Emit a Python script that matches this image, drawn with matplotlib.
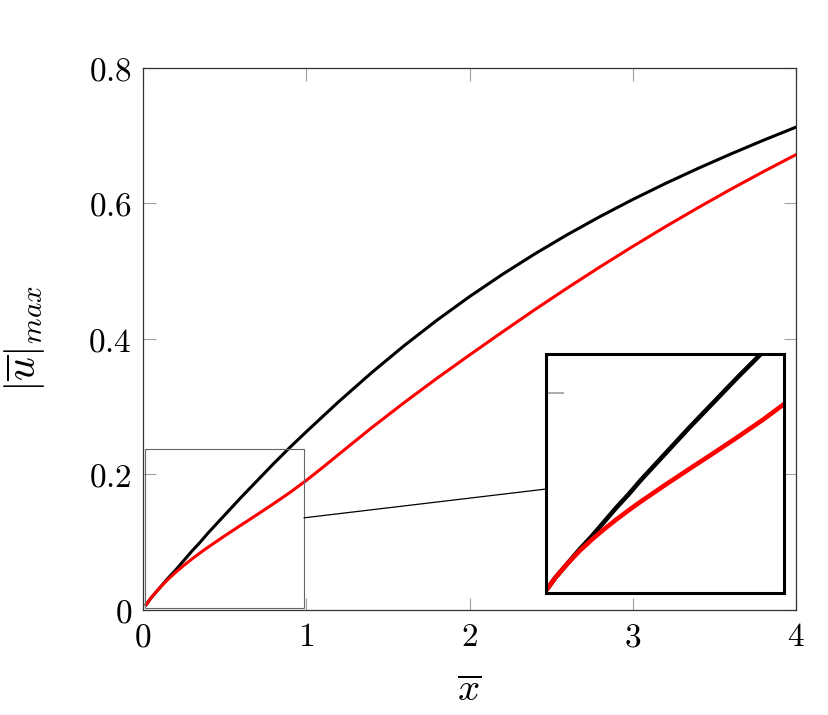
import matplotlib.pyplot as plt
from matplotlib.patches import Rectangle, ConnectionPatch

plt.rcParams['mathtext.fontset'] = 'cm'
plt.rcParams['font.family'] = 'serif'

# values
x_vals = [0.02, 0.05, 0.1, 0.15, 0.2, 0.25, 0.3, 0.35, 0.4, 0.5, 0.6, 0.7, 0.8, 0.9, 1.0,
          1.1, 1.2, 1.4, 1.6, 1.8, 2.0, 2.2, 2.4, 2.6, 2.8, 3.0, 3.2, 3.4, 3.6, 3.8, 4.0]
black_vals = [0.008, 0.018, 0.032, 0.046, 0.059, 0.073, 0.087, 0.100, 0.114, 0.140, 0.166,
              0.191, 0.216, 0.240, 0.263, 0.2854, 0.3077, 0.3502, 0.3902, 0.4276, 0.4625,
              0.4951, 0.5256, 0.5541, 0.5808, 0.6059, 0.6295, 0.6518, 0.6730, 0.6933, 0.7127]
red_vals = [0.008, 0.018, 0.032, 0.0445, 0.0556, 0.0658, 0.0753, 0.0843, 0.0929, 0.1093,
            0.1252, 0.1409, 0.1569, 0.1734, 0.1912, 0.2102, 0.2299, 0.2689, 0.3061, 0.3419,
            0.3763, 0.4101, 0.4433, 0.4754, 0.5065, 0.5366, 0.5657, 0.5938, 0.6209, 0.6470,
            0.6721]

x_ticks = [0, 1, 2, 3, 4]
x_ticklabels = ['$0$', '$1$', '$2$', '$3$', '$4$']
y_ticks = [0, 0.2, 0.4, 0.6, 0.8]
y_ticklabels = ['$0$', '$0.2$', '$0.4$', '$0.6$', '$0.8$']

# zoom window
zoom_x = (0.012, 0.986)
zoom_y = (0.003, 0.238)

fig = plt.figure(figsize=(8.29, 7.15), dpi=100)
ax = fig.add_axes([0.1725, 0.1469, 0.7877, 0.7580])

ax.plot(x_vals, black_vals, color='black', lw=2.2, zorder=3)
ax.plot(x_vals, red_vals, color='red', lw=2.2, zorder=3)

ax.set_xlim(0, 4)
ax.set_ylim(0, 0.8)
ax.set_xticks(x_ticks)
ax.set_xticklabels(x_ticklabels)
ax.set_yticks(y_ticks)
ax.set_yticklabels(y_ticklabels)
ax.tick_params(direction='in', length=9, width=0.8, color='#a0a0a0',
               top=True, right=True, labelsize=24, pad=8)
for s in ax.spines.values():
    s.set_linewidth(0.9)
    s.set_color('#333333')

ax.set_xlabel(r'$\overline{x}$', fontsize=28, labelpad=14)
ax.set_ylabel(r'$|\overline{u}|_{max}$', fontsize=30, labelpad=30)

# rectangle marking the zoomed region
ax.add_patch(Rectangle((zoom_x[0], zoom_y[0]), zoom_x[1] - zoom_x[0], zoom_y[1] - zoom_y[0],
                       fill=False, edgecolor='#666666', lw=0.8, zorder=4))

# inset
axins = fig.add_axes([0.6586, 0.1706, 0.2871, 0.3343])
axins.plot(x_vals, black_vals, color='black', lw=3.3)
axins.plot(x_vals, red_vals, color='red', lw=3.3)
axins.set_xlim(*zoom_x)
axins.set_ylim(*zoom_y)
axins.set_xticks([])
axins.set_yticks([0.2])
axins.set_yticklabels([])
axins.tick_params(direction='in', length=13, width=1.2, color='#a0a0a0')
for s in axins.spines.values():
    s.set_linewidth(2.2)
    s.set_color('black')

con = ConnectionPatch(xyA=(zoom_x[1], 0.136), coordsA=ax.transData,
                      xyB=(0, 0.435), coordsB=axins.transAxes,
                      color='black', lw=0.9)
fig.add_artist(con)

plt.savefig('out.png', dpi=100)
